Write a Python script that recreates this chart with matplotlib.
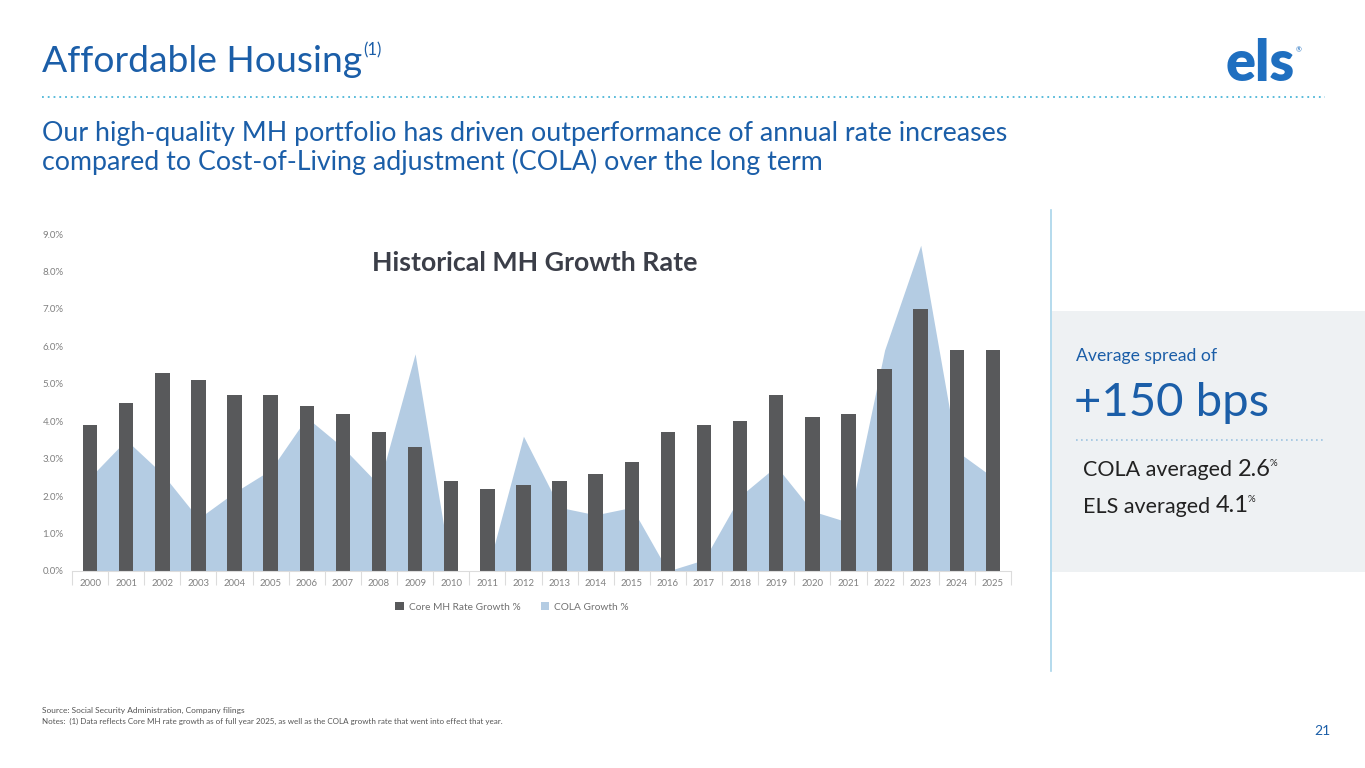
import matplotlib
matplotlib.use("Agg")
import matplotlib.pyplot as plt
from matplotlib.lines import Line2D
from matplotlib.patches import Rectangle, Patch

plt.rcParams['font.family'] = ['Lato', 'DejaVu Sans']

years = [str(y) for y in range(2000, 2026)]
core_mh = [3.9, 4.5, 5.3, 5.1, 4.7, 4.7, 4.4, 4.2, 3.7, 3.3, 2.4, 2.2, 2.3,
           2.4, 2.6, 2.9, 3.7, 3.9, 4.0, 4.7, 4.1, 4.2, 5.4, 7.0, 5.9, 5.9]
cola = [2.5, 3.5, 2.6, 1.4, 2.1, 2.7, 4.1, 3.3, 2.3, 5.8, 0.0, 0.0, 3.6,
        1.7, 1.5, 1.7, 0.0, 0.3, 2.0, 2.8, 1.6, 1.3, 5.9, 8.7, 3.2, 2.5]
y_ticks = [0, 1, 2, 3, 4, 5, 6, 7, 8, 9]

W, H = 1365, 768
BLUE = '#1b5ea8'
DARK = '#3b3e48'
BAR = '#58595b'
AREA = '#b4cce3'


def fx(x):
    return x / W


def fy(y):
    return 1 - y / H


fig = plt.figure(figsize=(W / 100, H / 100), dpi=100)
fig.patch.set_facecolor('white')
renderer = fig.canvas.get_renderer()


def right_edge(t):
    # pixel x of the right side of a drawn text
    return t.get_window_extent(renderer).x1


# right summary panel
fig.patches.append(Rectangle((fx(1052), fy(572)), fx(1365) - fx(1052), fy(311) - fy(572),
                             transform=fig.transFigure, facecolor='#eef1f3', edgecolor='none'))
fig.lines.append(Line2D([fx(1051), fx(1051)], [fy(210), fy(671)], transform=fig.transFigure,
                        color='#a8d4ea', lw=1.2))

# chart
ax = fig.add_axes([fx(72), fy(571), fx(1011) - fx(72), fy(234) - fy(571)])
x = list(range(len(years)))
ax.fill_between(x, cola, 0, color=AREA, lw=0, label='COLA Growth %', zorder=1)
ax.bar(x, core_mh, width=0.4, color=BAR, label='Core MH Rate Growth %', zorder=2)
ax.set_xlim(-0.5, len(years) - 0.5)
ax.set_ylim(0, 9)
ax.set_yticks(y_ticks)
ax.set_yticklabels([f'{v:.1f}%' for v in y_ticks])
ax.set_xticks(x)
ax.set_xticklabels(years)
ax.set_xticks([i - 0.5 for i in range(len(years) + 1)], minor=True)
ax.tick_params(axis='x', which='major', length=0, pad=6, labelsize=6.8, labelcolor='#808080')
ax.tick_params(axis='x', which='minor', length=10, color='#dcdcdc', width=0.8)
ax.tick_params(axis='y', length=0, pad=6, labelsize=7, labelcolor='#808080')
for s in ['top', 'right', 'left']:
    ax.spines[s].set_visible(False)
ax.spines['bottom'].set_color('#dcdcdc')
ax.patch.set_alpha(0)

ax.text(0.493, 0.915, 'Historical MH Growth Rate', transform=ax.transAxes, ha='center', va='center',
        fontsize=19.3, fontweight='bold', color=DARK)

handles = [Patch(facecolor=BAR, edgecolor='none', label='Core MH Rate Growth %'),
           Patch(facecolor=AREA, edgecolor='none', label='COLA Growth %')]
fig.legend(handles=handles, loc='center', bbox_to_anchor=(fx(512), fy(607)), ncol=2,
           frameon=False, fontsize=7.3, handlelength=0.8, handleheight=0.8, handletextpad=0.5,
           columnspacing=2.0, labelcolor='#707070')

# header
t = fig.text(fx(42), fy(62), 'Affordable Housing', fontsize=26.8, color=BLUE, va='center', ha='left')
fig.text(fx(right_edge(t) + 1), fy(50), '(1)', fontsize=12, color=BLUE, va='center', ha='left')
fig.lines.append(Line2D([fx(42), fx(1325)], [fy(97), fy(97)], transform=fig.transFigure,
                        color='#4db6d8', lw=1.3, ls=(0, (1, 2.2))))
fig.text(fx(42), fy(134), 'Our high-quality MH portfolio has driven outperformance of annual rate increases',
         fontsize=19.3, color=BLUE, va='center', ha='left')
fig.text(fx(42), fy(162), 'compared to Cost-of-Living adjustment (COLA) over the long term',
         fontsize=19.3, color=BLUE, va='center', ha='left')

# logo
t = fig.text(fx(1226), fy(64), 'els', fontsize=40, fontweight='heavy', color='#1f6fc0',
             va='center', ha='left')
fig.text(fx(right_edge(t) + 1), fy(50), '®', fontsize=5, color='#1f6fc0', va='center', ha='left')

# panel text
fig.text(fx(1076), fy(356), 'Average spread of', fontsize=12.7, color=BLUE, va='center', ha='left')
fig.text(fx(1074), fy(403), '+150 bps', fontsize=34, color=BLUE, va='center', ha='left')
fig.lines.append(Line2D([fx(1076), fx(1326)], [fy(440), fy(440)], transform=fig.transFigure,
                        color='#9cc3e0', lw=1.2, ls=(0, (1, 2))))
for label, val, ypix in [('COLA averaged', '2.6', 470), ('ELS averaged', '4.1', 507)]:
    t = fig.text(fx(1083), fy(ypix), label, fontsize=15.5, color='#222222', va='center', ha='left')
    t = fig.text(fx(right_edge(t) + 6), fy(ypix - 1), val, fontsize=17, color='#222222',
                 va='center', ha='left')
    fig.text(fx(right_edge(t) - 1), fy(ypix - 7), '%', fontsize=7, color='#222222',
             va='center', ha='left')

# footer
fig.text(fx(42), fy(710), 'Source: Social Security Administration, Company filings', fontsize=6,
         color='#555555', va='center', ha='left')
fig.text(fx(42), fy(721), 'Notes:  (1) Data reflects Core MH rate growth as of full year 2025, as well as '
         'the COLA growth rate that went into effect that year.', fontsize=5.8, color='#555555',
         va='center', ha='left')
fig.text(fx(1331), fy(731), '21', fontsize=10, color=BLUE, va='center', ha='right')

fig.savefig('out.png', dpi=100, facecolor='white')
